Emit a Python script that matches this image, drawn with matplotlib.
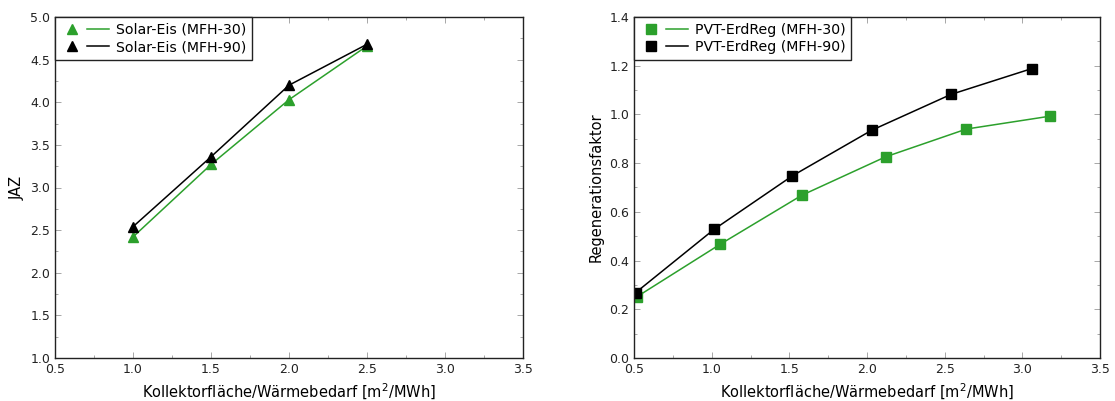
import matplotlib
matplotlib.use("Agg")
import matplotlib.pyplot as plt
from matplotlib.ticker import MultipleLocator, FormatStrFormatter
from matplotlib.lines import Line2D
from matplotlib.legend_handler import HandlerTuple

# Left panel data
x_eis = [1.0, 1.5, 2.0, 2.5]
jaz_mfh30 = [2.42, 3.27, 4.03, 4.66]
jaz_mfh90 = [2.54, 3.36, 4.20, 4.68]

# Right panel data
x_pvt30 = [0.52, 1.055, 1.58, 2.12, 2.64, 3.18]
reg_mfh30 = [0.252, 0.467, 0.668, 0.826, 0.94, 0.993]
x_pvt90 = [0.51, 1.015, 1.52, 2.03, 2.54, 3.06]
reg_mfh90 = [0.268, 0.528, 0.748, 0.935, 1.082, 1.188]

labels_left = ['Solar-Eis (MFH-30)', 'Solar-Eis (MFH-90)']
labels_right = ['PVT-ErdReg (MFH-30)', 'PVT-ErdReg (MFH-90)']

GREEN = "#2ca02c"
plt.rcParams['font.family'] = ['DejaVu Sans']
plt.rcParams['mathtext.default'] = 'regular'

fig = plt.figure(figsize=(11.15, 4.01), dpi=100)
W, H = 1115, 401
ax1 = fig.add_axes([55 / W, 1 - 358 / H, (523 - 55) / W, (358 - 17) / H])
ax2 = fig.add_axes([634 / W, 1 - 358 / H, (1100 - 634) / W, (358 - 17) / H])

MS = 6.5
LW = 1.1

ax1.plot(x_eis, jaz_mfh30, color=GREEN, marker='^', markersize=MS, lw=LW)
ax1.plot(x_eis, jaz_mfh90, color='black', marker='^', markersize=MS, lw=LW)
ax1.set_xlim(0.5, 3.5)
ax1.set_ylim(1.0, 5.0)
ax1.xaxis.set_major_locator(MultipleLocator(0.5))
ax1.xaxis.set_minor_locator(MultipleLocator(0.25))
ax1.yaxis.set_major_locator(MultipleLocator(0.5))
ax1.yaxis.set_minor_locator(MultipleLocator(0.25))
ax1.set_ylabel('JAZ', fontsize=10.5)

ax2.plot(x_pvt30, reg_mfh30, color=GREEN, marker='s', markersize=MS, lw=LW)
ax2.plot(x_pvt90, reg_mfh90, color='black', marker='s', markersize=MS, lw=LW)
ax2.set_xlim(0.5, 3.5)
ax2.set_ylim(0.0, 1.4)
ax2.xaxis.set_major_locator(MultipleLocator(0.5))
ax2.xaxis.set_minor_locator(MultipleLocator(0.25))
ax2.yaxis.set_major_locator(MultipleLocator(0.2))
ax2.yaxis.set_minor_locator(MultipleLocator(0.1))
ax2.set_ylabel('Regenerationsfaktor', fontsize=10.5)


def make_handles(marker):
    hs = []
    for c in (GREEN, 'black'):
        m = Line2D([], [], color=c, marker=marker, markersize=MS, linestyle='none')
        ln = Line2D([], [], color=c, lw=LW)
        hs.append((m, ln))
    return hs


for ax, marker, labels in ((ax1, '^', labels_left), (ax2, 's', labels_right)):
    ax.set_xlabel('Kollektorfläche/Wärmebedarf [m$^2$/MWh]', fontsize=10.5)
    ax.xaxis.set_major_formatter(FormatStrFormatter('%.1f'))
    ax.yaxis.set_major_formatter(FormatStrFormatter('%.1f'))
    ax.tick_params(which='both', direction='in', top=True, right=True, labelsize=9, colors='#222222')
    ax.tick_params(which='major', length=4, width=0.6, color='#999999')
    ax.tick_params(which='minor', length=2, width=0.6, color='#999999')
    for s in ax.spines.values():
        s.set_linewidth(1.0)
        s.set_color('#222222')
    leg = ax.legend(make_handles(marker), labels, loc='upper left', fontsize=10.2,
                    fancybox=False, framealpha=1, edgecolor='#222222',
                    borderaxespad=0, handlelength=3.4, handletextpad=0.5,
                    borderpad=0.4, labelspacing=0.25,
                    handler_map={tuple: HandlerTuple(ndivide=None, pad=0.3)})
    leg.get_frame().set_linewidth(1.0)

fig.savefig('out.png', dpi=100)
